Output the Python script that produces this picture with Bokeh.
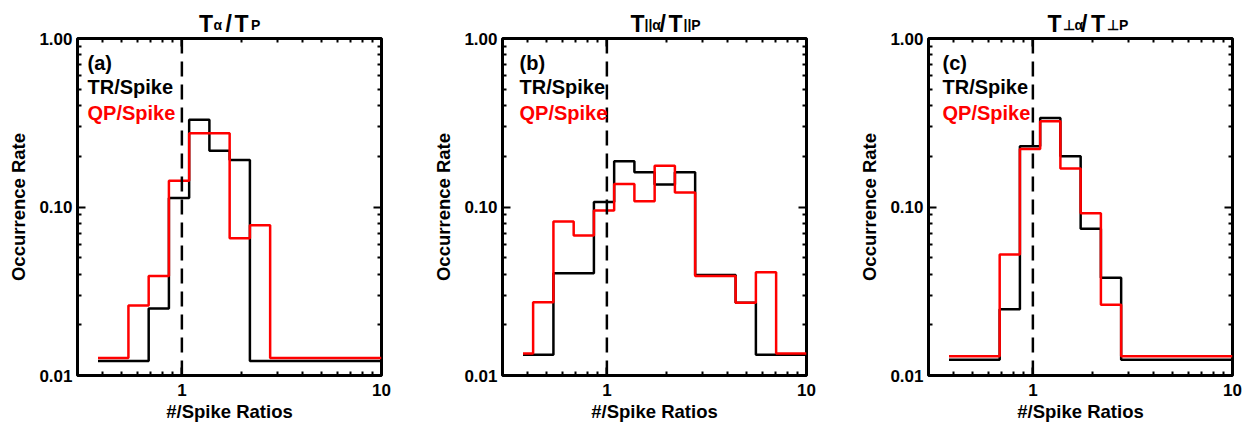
from bokeh.plotting import figure
from bokeh.layouts import row, column
from bokeh.models import (Range1d, FixedTicker, PrintfTickFormatter, LogAxis,
                          Span, Label, CustomJSTickFormatter)
from bokeh.core.properties import value
from bokeh.embed import file_html
from bokeh.resources import INLINE

# ---------------- data ----------------
# histogram bin centres (#/Spike ratio), log spaced
bin_centers = [0.380, 0.480, 0.607, 0.766, 0.968, 1.222, 1.544, 1.950,
               2.463, 3.111, 3.929, 4.963, 6.268, 7.917, 10.0]

# (a) T_alpha / T_p
a_tr = [0.0122, 0.0122, 0.0122, 0.025, 0.113, 0.33, 0.216, 0.19,
        0.0122, 0.0122, 0.0122, 0.0122, 0.0122, 0.0122, 0.0122]
a_qp = [0.0127, 0.0127, 0.026, 0.039, 0.143, 0.274, 0.274, 0.0653,
        0.078, 0.0127, 0.0127, 0.0127, 0.0127, 0.0127, 0.0127]

# (b) T_||alpha / T_||p
b_tr = [0.0133, 0.0133, 0.0405, 0.0405, 0.107, 0.187, 0.161, 0.136,
        0.161, 0.0395, 0.0395, 0.027, 0.0133, 0.0133, 0.0133]
b_qp = [0.0135, 0.0272, 0.082, 0.0678, 0.0953, 0.137, 0.108, 0.176,
        0.122, 0.039, 0.039, 0.027, 0.041, 0.0135, 0.0135]

# (c) T_perp_alpha / T_perp_p
c_tr = [0.0124, 0.0124, 0.0124, 0.0247, 0.229, 0.338, 0.2, 0.0744,
        0.038, 0.0124, 0.0124, 0.0124, 0.0124, 0.0124, 0.0124]
c_qp = [0.013, 0.013, 0.013, 0.0522, 0.221, 0.323, 0.169, 0.0918,
        0.0263, 0.013, 0.013, 0.013, 0.013, 0.013, 0.013]

x_ticks = [1, 10]
x_minor = [0.3, 0.4, 0.5, 0.6, 0.7, 0.8, 0.9, 2, 3, 4, 5, 6, 7, 8, 9]
y_ticks = [0.01, 0.1, 1.0]
y_minor = [0.02, 0.03, 0.04, 0.05, 0.06, 0.07, 0.08, 0.09,
           0.2, 0.3, 0.4, 0.5, 0.6, 0.7, 0.8, 0.9]

# panel titles: main letters and subscripts
title_main = [["T", "/", "T"], ["T", "/", "T"], ["T", "/", "T"]]
title_subs = [["α", "P"], ["||α", "||P"], ["⊥α", "⊥P"]]

FONT = "Liberation Sans"
RED = "#ff0000"
HEADER_H = 32


def style_axis(ax, labels=True):
    ax.axis_line_color = None
    ax.major_tick_in = 8
    ax.major_tick_out = 0
    ax.minor_tick_in = 4
    ax.minor_tick_out = 0
    ax.major_tick_line_width = 2
    ax.minor_tick_line_width = 2
    ax.major_tick_line_color = "black"
    ax.minor_tick_line_color = "black"
    ax.major_label_text_font = FONT
    ax.major_label_text_font_style = "bold"
    ax.major_label_text_color = "black"
    if labels:
        ax.major_label_text_font_size = "17px"
    else:
        ax.formatter = CustomJSTickFormatter(code="return '';")
        ax.major_label_text_font_size = "1px"
        ax.major_label_standoff = 0


def make_panel(letter, tr, qp, right_border, text_off):
    p = figure(x_axis_type="log", y_axis_type="log",
               x_range=Range1d(0.3, 10), y_range=Range1d(0.01, 1.0),
               frame_width=304, frame_height=337, title=None,
               min_border_left=77, min_border_right=right_border,
               min_border_top=38 - HEADER_H, min_border_bottom=48,
               output_backend="svg", toolbar_location=None)
    p.grid.visible = False
    p.outline_line_color = "black"
    p.outline_line_width = 3
    p.background_fill_color = "white"
    p.border_fill_color = "white"

    p.xaxis.ticker = FixedTicker(ticks=x_ticks, minor_ticks=x_minor)
    p.yaxis.ticker = FixedTicker(ticks=y_ticks, minor_ticks=y_minor)
    p.xaxis.formatter = PrintfTickFormatter(format="%d")
    p.yaxis.formatter = PrintfTickFormatter(format="%.2f")
    for ax in p.xaxis:
        style_axis(ax)
        ax.major_label_standoff = 8
        ax.axis_label = "#/Spike Ratios"
        ax.axis_label_standoff = 2
    for ax in p.yaxis:
        style_axis(ax)
        ax.major_label_standoff = 5
        ax.axis_label = "Occurrence Rate"
        ax.axis_label_standoff = 7
    for ax in list(p.xaxis) + list(p.yaxis):
        ax.axis_label_text_font = FONT
        ax.axis_label_text_font_style = "bold"
        ax.axis_label_text_font_size = "18.5px"
        ax.axis_label_text_color = "black"

    top = LogAxis(ticker=FixedTicker(ticks=x_ticks, minor_ticks=x_minor))
    style_axis(top, labels=False)
    p.add_layout(top, "above")
    right = LogAxis(ticker=FixedTicker(ticks=y_ticks, minor_ticks=y_minor))
    style_axis(right, labels=False)
    p.add_layout(right, "right")

    # dashed line at ratio = 1
    p.add_layout(Span(location=1.0, dimension="height", line_color="black",
                      line_width=2.5, line_dash="15 8"))

    p.step(bin_centers, tr, mode="center", line_color="black", line_width=2.5)
    p.step(bin_centers, qp, mode="center", line_color=RED, line_width=2.5)

    # panel texts
    for txt, col, dy in [(letter, "black", -24), ("TR/Spike", "black", -48),
                         ("QP/Spike", RED, -74)]:
        p.add_layout(Label(x=0.3, y=1.0, x_offset=text_off, y_offset=dy,
                           text=txt, text_color=col, text_font=FONT,
                           text_font_style="bold", text_font_size="20px",
                           text_baseline="alphabetic", text_align="left"))
    return p


pa = make_panel("(a)", a_tr, a_qp, 44, 10)
pb = make_panel("(b)", b_tr, b_qp, 45, 17)
pc = make_panel("(c)", c_tr, c_qp, 23, 14)

# header strip holding the three composite titles (pixel coordinates)
hd = figure(width=1255, height=HEADER_H, x_range=Range1d(0, 1255),
            y_range=Range1d(0, HEADER_H), title=None,
            min_border_left=0, min_border_right=0,
            min_border_top=0, min_border_bottom=0,
            x_axis_location=None, y_axis_location=None,
            output_backend="svg", toolbar_location=None)
hd.grid.visible = False
hd.outline_line_color = None
hd.background_fill_color = "white"
hd.border_fill_color = "white"

main_x = [[198.5, 225, 234], [630, 659, 668], [1047, 1080.5, 1090.5]]
sub_x = [[213, 250.5], [644, 683], [1062, 1106.5]]
mx, mt, sx, st = [], [], [], []
for i in range(3):
    mx += main_x[i]
    mt += title_main[i]
    sx += sub_x[i]
    st += title_subs[i]
hd.text(x=mx, y=[9] * len(mx), text=mt, text_color="black",
        text_font=value(FONT), text_font_size="23px",
        text_font_style="bold", text_align="left",
        text_baseline="alphabetic")
hd.text(x=sx, y=[8] * len(sx), text=st, text_color="black",
        text_font=value(FONT), text_font_size="14px",
        text_font_style="bold", text_align="left",
        text_baseline="alphabetic")

layout = column(hd, row(pa, pb, pc))
open("out.html", "w").write(file_html(layout, INLINE))
